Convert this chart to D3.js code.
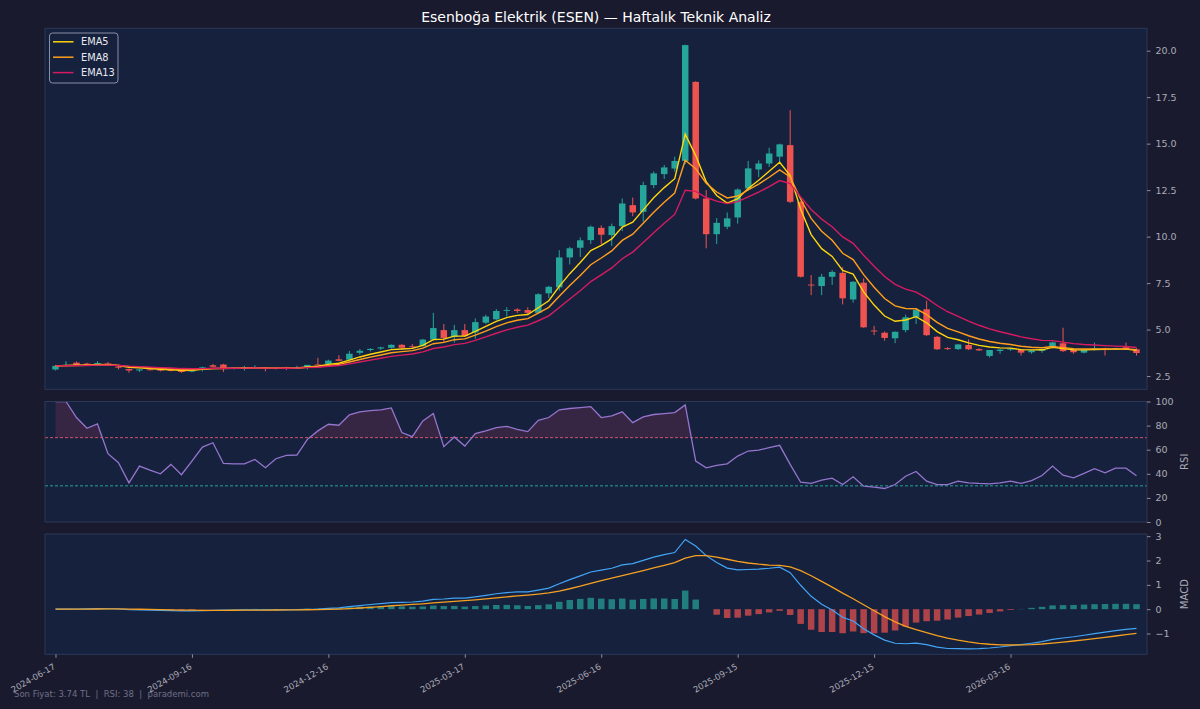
<!DOCTYPE html>
<html><head><meta charset="utf-8">
<script src="https://cdn.jsdelivr.net/npm/d3@7"></script>
<style>
body{margin:0;background:#1a1a2e;}
text{font-family:"DejaVu Sans",sans-serif;}
</style>
</head><body>
<svg id="c" width="1200" height="709"></svg>
<script>
// ---------------- DATA ----------------
const startDate = "2024-06-17"; // first weekly bar
const opens = [2.85,3.05,3.22,3.17,3.08,3.18,3.0,2.88,2.8,2.86,
 2.86,2.82,2.84,2.74,2.88,3.08,3.12,2.9,2.93,2.94,
 2.94,2.93,2.95,2.9,2.96,3.12,3.15,3.4,3.38,3.75,
 3.9,3.98,4.02,4.18,4.1,4.12,4.46,4.97,4.6,4.97,
 4.85,5.37,5.55,6.0,6.08,6.05,5.9,6.95,7.27,8.88,
 9.4,9.81,10.47,10.08,10.56,11.69,11.33,12.77,13.36,13.66,
 14.07,18.32,12.05,10.13,10.53,11.03,12.59,13.61,13.93,14.3,
 14.92,11.87,7.42,7.34,7.84,8.05,6.62,7.52,4.95,4.83,
 4.53,4.97,5.66,6.09,4.61,4.0,3.95,4.17,3.95,3.58,
 3.85,3.93,3.92,3.78,3.85,4.07,4.26,3.9,3.76,3.92,
 3.98,3.94,4.05,3.94];
const highs = [3.1,3.3,3.28,3.22,3.3,3.25,3.03,2.9,2.88,2.9,
 2.88,2.85,2.86,2.85,3.0,3.15,3.16,2.98,3.05,3.08,
 2.98,2.96,3.0,3.05,3.1,3.48,3.38,3.62,3.85,3.95,
 4.0,4.08,4.2,4.22,4.22,4.5,5.9,5.3,5.25,5.3,
 5.6,5.8,6.1,6.2,6.15,6.2,6.95,7.35,9.27,9.45,
 9.96,10.6,10.6,10.7,12.05,12.1,12.95,13.5,13.85,14.3,
 20.32,18.35,12.5,11.0,11.3,12.6,14.07,14.1,14.78,15.0,
 16.8,11.9,7.93,8.0,8.2,8.35,7.6,7.75,5.2,4.9,
 4.9,5.8,6.15,6.55,4.65,4.05,4.22,4.47,4.0,3.9,
 3.95,4.0,3.95,3.9,3.95,4.35,5.1,3.92,3.92,4.3,
 4.02,4.02,4.3,4.0];
const lows = [2.8,3.0,3.08,3.05,3.05,3.05,2.85,2.68,2.72,2.8,
 2.75,2.76,2.67,2.7,2.75,2.98,2.72,2.85,2.8,2.9,
 2.75,2.86,2.82,2.88,2.85,3.08,3.12,3.3,3.35,3.65,
 3.82,3.9,3.98,3.98,4.0,4.08,4.42,4.3,4.3,4.6,
 4.5,5.3,5.5,5.7,5.9,5.8,5.85,6.7,7.1,8.5,
 8.9,9.6,9.6,9.5,10.3,11.1,10.8,12.6,13.1,13.5,
 13.9,12.0,9.37,9.6,10.4,10.7,12.5,13.2,13.75,14.0,
 11.8,7.8,6.85,6.85,7.4,6.35,6.45,5.1,4.7,4.4,
 4.27,4.85,5.3,4.65,3.9,3.9,3.9,3.9,3.85,3.5,
 3.7,3.85,3.6,3.7,3.75,4.0,3.8,3.7,3.72,3.88,
 3.6,3.9,3.9,3.6];
const closes = [3.05,3.1,3.1,3.1,3.2,3.1,2.96,2.8,2.86,2.83,
 2.79,2.8,2.72,2.82,2.97,3.0,2.92,2.95,2.96,2.96,
 2.91,2.91,2.9,2.96,3.1,3.1,3.33,3.32,3.7,3.86,
 3.96,4.04,4.18,4.02,4.06,4.46,5.08,4.55,4.97,4.65,
 5.4,5.7,6.0,6.05,6.0,5.9,6.9,7.3,8.88,9.37,
 9.8,10.53,10.1,10.56,11.78,11.3,12.77,13.4,13.72,14.07,
 20.3,12.05,10.13,10.74,10.98,12.53,13.67,13.93,14.47,14.96,
 11.87,7.84,7.38,7.84,8.1,6.68,7.57,5.12,4.9,4.55,
 4.88,5.66,6.05,4.7,3.94,3.95,4.2,3.94,3.88,3.9,
 3.92,3.97,3.76,3.88,3.92,4.31,3.84,3.78,3.9,3.98,
 3.94,3.98,3.95,3.74];
const rsiValues = [100,100,86.7,77.8,81.4,56.7,49.2,32.5,46.4,43,
 40,47.8,39.2,50.6,62.2,65.8,48.6,48.3,48.3,51.9,
 45,52.5,55.3,55.6,68.6,75.6,81.1,80.3,88.9,91.4,
 92.5,93.1,94.7,74.2,70.8,83.9,90,62.5,70.6,63,
 73.3,75.6,78.3,79.4,76.9,75,84.4,86.7,93.1,94.2,
 95,95.8,86.7,88,91.4,82.5,87.2,89.2,90,90.8,
 97.2,50.6,45,47,48.3,54.7,58.9,59.7,61.7,63.6,
 47.8,33,32,34.7,36.4,31.1,37.5,29.7,28.9,27.8,
 31.1,38,41.9,33.9,31.1,31.1,33.9,32.5,32,31.7,
 32.5,33.9,32,34.4,38.6,46.4,38.9,36.7,40.3,44.2,
 40.8,44.7,44.7,38.4];
const emaSpans = [5, 8, 13];
const emaNames = ["EMA5", "EMA8", "EMA13"];
const xTickLabels = ["2024-06-17","2024-09-16","2024-12-16","2025-03-17","2025-06-16","2025-09-15","2025-12-15","2026-03-16"];
const priceTicks = [2.5,5,7.5,10,12.5,15,17.5,20];
const rsiTicks = [0,20,40,60,80,100];
const rsiLevels = [70, 30];
const macdTicks = [-1,0,1,2,3];
const titleText = "Esenboğa Elektrik (ESEN) — Haftalık Teknik Analiz";

// ---------------- HELPERS ----------------
function ema(arr, span){ const a = 2/(span+1); const out=[]; arr.forEach((v,i)=>{ out.push(i===0? v : a*v + (1-a)*out[i-1]); }); return out; }
const N = closes.length;
const start = d3.utcParse("%Y-%m-%d")(startDate);
const dateAt = f => new Date(start.getTime() + f*7*864e5);
const dates = d3.range(N).map(i => d3.utcDay.offset(start, 7*i));
const emas = emaSpans.map(s => ema(closes, s));
const e12 = ema(closes,12), e26 = ema(closes,26);
const macd = closes.map((_,i)=> e12[i]-e26[i]);
const signal = ema(macd, 9);
const hist = macd.map((v,i)=> v - signal[i]);

// ---------------- LAYOUT ----------------
const W=1200, H=709, L=45, R=1147;
const pMain={top:28.3,bottom:389.3}, pRsi={top:401.5,bottom:522}, pMacd={top:534,bottom:654.3};
const svg = d3.select("#c");
svg.append("rect").attr("width",W).attr("height",H).attr("fill","#1a1a2e");

const x = d3.scaleUtc().domain([dateAt(-1), dateAt(104)]).range([L,R]);
const step = x(dates[1]) - x(dates[0]);
const bw = step*0.62;

const lo = d3.min(lows), hi = d3.max(highs), pd = (hi-lo)*0.05;
const yP = d3.scaleLinear().domain([lo-pd, hi+pd]).range([pMain.bottom, pMain.top]);
const yR = d3.scaleLinear().domain([0,100]).range([pRsi.bottom, pRsi.top]);
const mlo = d3.min([...macd,...signal,...hist,0]), mhi = d3.max([...macd,...signal,...hist,0]), mpd=(mhi-mlo)*0.05;
const yM = d3.scaleLinear().domain([mlo-mpd, mhi+mpd]).range([pMacd.bottom, pMacd.top]);

const defs = svg.append("defs");
function panel(p, id){
  svg.append("rect").attr("x",L).attr("y",p.top).attr("width",R-L).attr("height",p.bottom-p.top).attr("fill","#16213e");
  defs.append("clipPath").attr("id",id).append("rect").attr("x",L).attr("y",p.top).attr("width",R-L).attr("height",p.bottom-p.top);
  return svg.append("g").attr("clip-path",`url(#${id})`);
}
function border(p){
  svg.append("rect").attr("x",L).attr("y",p.top).attr("width",R-L).attr("height",p.bottom-p.top).attr("fill","none").attr("stroke","#2c3858").attr("stroke-width",1);
}
const tickColor = "#a9abb8";
function styleAxis(g){
  g.select(".domain").remove();
  g.selectAll(".tick line").attr("stroke",tickColor).attr("stroke-width",0.8);
  g.selectAll(".tick text").attr("fill",tickColor).style("font-size","9.5px").style("font-family","DejaVu Sans");
}

// ---------------- MAIN PANEL ----------------
const UP="#26a69a", DN="#ef5350";
const gM = panel(pMain,"cm");
const cand = gM.selectAll("g.c").data(d3.range(N)).join("g");
cand.append("line").attr("x1",i=>x(dates[i])).attr("x2",i=>x(dates[i]))
  .attr("y1",i=>yP(highs[i])).attr("y2",i=>yP(lows[i]))
  .attr("stroke",i=>closes[i]>=opens[i]?UP:DN).attr("stroke-width",1);
cand.append("rect").attr("x",i=>x(dates[i])-bw/2).attr("width",bw)
  .attr("y",i=>yP(Math.max(opens[i],closes[i])))
  .attr("height",i=>Math.max(0.9, Math.abs(yP(opens[i])-yP(closes[i]))))
  .attr("fill",i=>closes[i]>=opens[i]?UP:DN);
const emaColors = ["#ffd60a","#ff9f1c","#d81b60"];
emas.forEach((s,k)=>{
  gM.append("path").datum(s).attr("fill","none").attr("stroke",emaColors[k]).attr("stroke-width",1.4)
    .attr("d", d3.line().x((d,i)=>x(dates[i])).y(d=>yP(d)));
});
border(pMain);
const axP = svg.append("g").attr("transform",`translate(${R},0)`)
  .call(d3.axisRight(yP).tickValues(priceTicks).tickFormat(d3.format(".1f")).tickSize(3.5).tickPadding(5));
styleAxis(axP);

// legend
const lg = svg.append("g");
lg.append("rect").attr("x",49.5).attr("y",33).attr("width",68.5).attr("height",50).attr("rx",3)
  .attr("fill","#16213e").attr("stroke","#8a8fa3").attr("stroke-width",1);
emaNames.forEach((n,k)=>{
  const yy = 41.8 + k*15.4;
  lg.append("line").attr("x1",53).attr("x2",73.5).attr("y1",yy).attr("y2",yy).attr("stroke",emaColors[k]).attr("stroke-width",1.5);
  lg.append("text").attr("x",81).attr("y",yy).attr("dy","0.36em").attr("fill","#e8e8ee").style("font-size","9.8px").text(n);
});

// title
svg.append("text").attr("x",(L+R)/2).attr("y",22).attr("text-anchor","middle").attr("fill","#ffffff")
  .style("font-size","14px").text(titleText);

// ---------------- RSI PANEL ----------------
const gR = panel(pRsi,"cr");
const pts=[];
for(let i=0;i<N;i++){
  pts.push({f:i,v:rsiValues[i]});
  if(i<N-1 && (rsiValues[i]-70)*(rsiValues[i+1]-70)<0){
    const t=(70-rsiValues[i])/(rsiValues[i+1]-rsiValues[i]); pts.push({f:i+t,v:70});
  }
}
gR.append("path").datum(pts).attr("fill","rgba(233,69,96,0.16)")
  .attr("d", d3.area().x(d=>x(dateAt(d.f))).y0(yR(70)).y1(d=>yR(Math.max(d.v,70))));
const lvlCol = ["#e9566c","#2bb3a6"];
rsiLevels.forEach((l,k)=>{
  gR.append("line").attr("x1",L).attr("x2",R).attr("y1",yR(l)).attr("y2",yR(l))
    .attr("stroke",lvlCol[k]).attr("stroke-width",1).attr("stroke-dasharray","3,2").attr("opacity",0.9);
});
gR.append("path").datum(rsiValues).attr("fill","none").attr("stroke","#9575cd").attr("stroke-width",1.3)
  .attr("d", d3.line().x((d,i)=>x(dates[i])).y(d=>yR(d)));
border(pRsi);
const axR = svg.append("g").attr("transform",`translate(${R},0)`)
  .call(d3.axisRight(yR).tickValues(rsiTicks).tickFormat(d3.format("d")).tickSize(3.5).tickPadding(5));
styleAxis(axR);
svg.append("text").attr("transform",`translate(1188,${(pRsi.top+pRsi.bottom)/2}) rotate(-90)`)
  .attr("text-anchor","middle").attr("fill",tickColor).style("font-size","10px").text("RSI");

// ---------------- MACD PANEL ----------------
const gC = panel(pMacd,"cc");
gC.selectAll("rect.h").data(d3.range(N)).join("rect")
  .attr("x",i=>x(dates[i])-bw/2).attr("width",bw)
  .attr("y",i=>Math.min(yM(0),yM(hist[i]))).attr("height",i=>Math.abs(yM(hist[i])-yM(0)))
  .attr("fill",i=>hist[i]>=0?UP:DN).attr("opacity",0.7);
gC.append("path").datum(macd).attr("fill","none").attr("stroke","#42a5f5").attr("stroke-width",1.2)
  .attr("d", d3.line().x((d,i)=>x(dates[i])).y(d=>yM(d)));
gC.append("path").datum(signal).attr("fill","none").attr("stroke","#f5a020").attr("stroke-width",1.3)
  .attr("d", d3.line().x((d,i)=>x(dates[i])).y(d=>yM(d)));
border(pMacd);
const axM = svg.append("g").attr("transform",`translate(${R},0)`)
  .call(d3.axisRight(yM).tickValues(macdTicks).tickFormat(d=> d<0 ? "\u2212"+Math.abs(d) : String(d)).tickSize(3.5).tickPadding(5));
styleAxis(axM);
svg.append("text").attr("transform",`translate(1188,${(pMacd.top+pMacd.bottom)/2}) rotate(-90)`)
  .attr("text-anchor","middle").attr("fill",tickColor).style("font-size","10px").text("MACD");

// x axis
const parse = d3.utcParse("%Y-%m-%d");
const axX = svg.append("g").attr("transform",`translate(0,${pMacd.bottom})`)
  .call(d3.axisBottom(x).tickValues(xTickLabels.map(parse)).tickFormat(d3.utcFormat("%Y-%m-%d")).tickSize(3.5).tickPadding(3));
styleAxis(axX);
axX.selectAll(".tick text").style("font-size","8.5px").attr("text-anchor","end")
  .attr("y",0).attr("dy",0).attr("transform","translate(0,14) rotate(-30)");

// footer
svg.append("text").attr("x",14).attr("y",697).attr("fill","#6e7088").style("font-size","8.5px").style("white-space","pre")
  .text(`Son Fiyat: ${closes[N-1].toFixed(2)} TL  |  RSI: ${Math.round(rsiValues[N-1])}  |  parademi.com`);
</script>
</body></html>
